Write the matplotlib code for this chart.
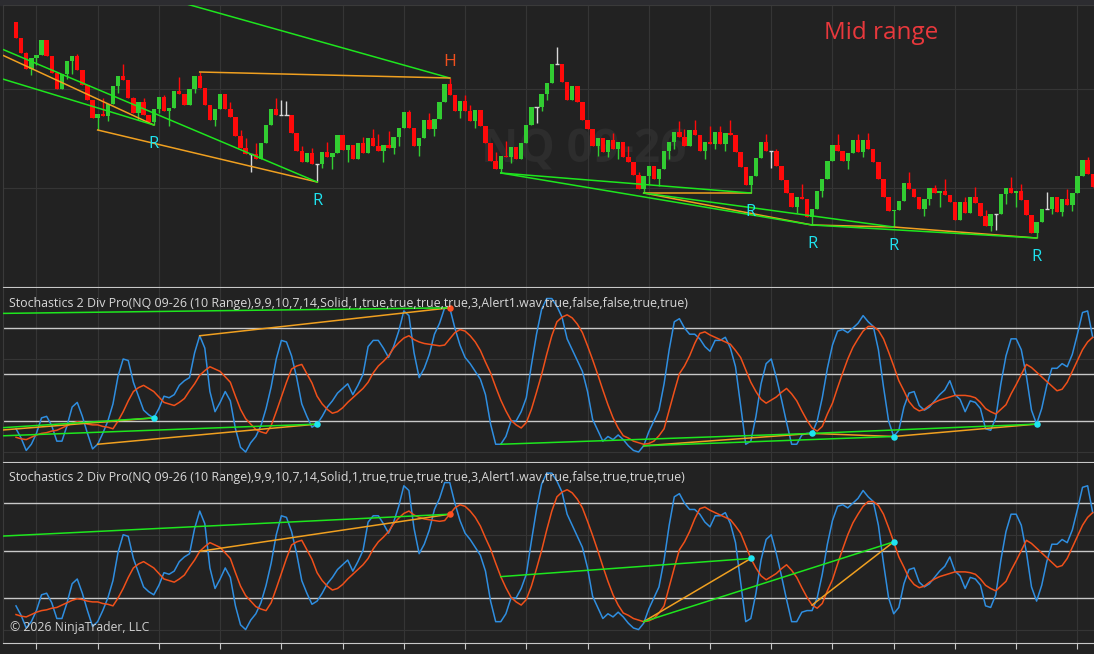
import numpy as np
import matplotlib.pyplot as plt
from matplotlib.patches import Rectangle

plt.rcParams['font.family'] = ['Open Sans', 'DejaVu Sans']

# ---- NQ 09-26 (10 Range) bars, price in chart units ----
first_open = 278
closes = [262, 247, 231, 242, 245, 260, 244, 227, 211, 226,
          239, 244, 230, 215, 200, 182, 186, 184, 196, 214,
          224, 220, 202, 187, 198, 185, 178, 191, 203, 189,
          192, 209, 206, 195, 211, 224, 212, 195, 180, 191,
          206, 191, 183, 164, 152, 146, 146, 141, 157, 175,
          191, 185, 185, 185, 167, 149, 138, 147, 136, 136,
          148, 143, 147, 165, 150, 155, 141, 157, 147, 162,
          154, 149, 155, 152, 163, 172, 188, 172, 154, 162,
          180, 171, 181, 198, 216, 205, 189, 199, 189, 179,
          190, 174, 157, 139, 131, 144, 143, 153, 141, 157,
          175, 193, 193, 206, 217, 236, 236, 218, 200, 214,
          198, 180, 171, 154, 162, 148, 160, 151, 158, 143,
          138, 125, 111, 124, 134, 121, 131, 149, 158, 168,
          163, 154, 170, 165, 149, 158, 156, 168, 156, 167,
          165, 148, 133, 115, 124, 142, 158, 149, 149, 134,
          120, 107, 93, 103, 101, 83, 91, 109, 121, 139,
          155, 149, 139, 147, 160, 148, 160, 151, 138, 121,
          103, 89, 90, 99, 117, 111, 103, 91, 101, 112,
          107, 109, 105, 98, 80, 98, 87, 103, 97, 84,
          74, 86, 86, 106, 112, 107, 109, 100, 85, 67,
          78, 91, 91, 103, 88, 101, 95, 107, 124, 140,
          126, 113]

# wick ends that stick out of the body
wick_highs = {2: 248, 12: 246, 17: 202, 21: 236, 23: 203, 25: 202, 29: 205, 32: 223,
              36: 228, 42: 198, 44: 170, 45: 162, 47: 157, 51: 202, 52: 200, 53: 199,
              56: 154, 58: 152, 61: 158, 68: 163, 70: 171, 71: 166, 73: 169, 77: 190,
              81: 187, 85: 222, 88: 205, 89: 195, 94: 148, 96: 159, 106: 253, 117: 167,
              120: 154, 122: 128, 130: 179, 131: 171, 133: 180, 136: 174, 138: 174,
              140: 180, 147: 166, 149: 151, 154: 116, 161: 166, 165: 166, 167: 167,
              175: 128, 180: 115, 182: 121, 186: 103, 188: 113, 190: 90, 195: 123,
              197: 116, 202: 108, 206: 111, 210: 143}
wick_lows = {3: 225, 4: 235, 10: 221, 11: 226, 16: 170, 18: 179, 20: 207, 24: 180,
             27: 175, 28: 187, 30: 174, 35: 207, 39: 174, 46: 128, 59: 118, 60: 132,
             62: 131, 65: 138, 72: 138, 74: 146, 75: 154, 79: 144, 82: 164, 87: 182,
             90: 172, 95: 127, 97: 137, 102: 177, 103: 189, 104: 200, 114: 144, 116: 143,
             118: 141, 123: 107, 124: 116, 126: 114, 128: 141, 129: 151, 135: 141,
             137: 151, 139: 149, 144: 107, 148: 132, 153: 87, 156: 75, 158: 103, 163: 131,
             166: 143, 172: 73, 178: 84, 179: 95, 181: 93, 191: 69, 192: 70, 194: 96,
             196: 93, 200: 62, 203: 86, 205: 84, 207: 89}

# ---- stochastics ----
stoch_k = [15, 9, 1, 5, 12, 22, 23, 17, 7, 7,
           17, 29, 32, 23, 12, 2, 5, 12, 20, 31,
           49, 60, 59, 45, 36, 27, 24, 22, 28, 36,
           35, 37, 43, 46, 48, 64, 75, 67, 39, 26,
           32, 39, 33, 15, 3, 0, 6, 10, 17, 28,
           42, 60, 72, 71, 62, 48, 31, 23, 16, 18,
           23, 29, 33, 38, 41, 44, 37, 43, 50, 68,
           72, 72, 67, 61, 68, 78, 91, 88, 64, 48,
           54, 63, 76, 83, 93, 93, 80, 69, 61, 57,
           52, 47, 37, 18, 5, 5, 10, 20, 20, 26,
           35, 56, 76, 92, 99, 99, 94, 87, 73, 66,
           59, 52, 39, 21, 14, 7, 10, 8, 11, 8,
           4, 1, 0, 4, 13, 20, 27, 44, 66, 84,
           86, 80, 76, 76, 73, 68, 65, 72, 72, 74,
           67, 55, 30, 5, 7, 23, 44, 57, 60, 48,
           34, 19, 5, 5, 11, 12, 12, 20, 35, 54,
           69, 78, 79, 77, 80, 83, 88, 84, 81, 66,
           42, 20, 10, 14, 29, 38, 39, 30, 27, 29,
           33, 37, 40, 46, 37, 34, 26, 33, 32, 28,
           15, 14, 22, 44, 62, 73, 73, 66, 49, 27,
           18, 28, 43, 54, 54, 57, 55, 63, 76, 90,
           91, 74]
stoch_d = [9.5, 8.5, 8, 9.5, 11, 12, 12.5, 13.5, 14, 15.5,
           17, 18.5, 19.5, 19, 18, 17.5, 17.5, 16.5, 16, 15,
           20, 26, 33, 39, 41.5, 43, 41, 39, 35.5, 32,
           31, 30, 32, 34.5, 39.5, 44, 49.5, 52.5, 55, 53.5,
           52, 48.5, 45, 36, 27.5, 21.5, 18, 14.5, 13, 12,
           17, 26, 35.5, 45, 53.5, 55.5, 56.5, 50.5, 44.5, 36,
           31, 27.5, 25, 26, 28.5, 32, 35, 38, 41, 45,
           51, 55.5, 58.5, 62, 67, 70.5, 73.5, 75, 72.5, 71,
           70, 69.5, 69, 68.5, 69, 73, 77, 79, 78, 75,
           71, 65.5, 58, 51, 42, 33.5, 26.5, 20.5, 17.5, 15.5,
           19, 27.5, 38.5, 50, 63, 75, 84, 87, 88.5, 86.5,
           82.5, 77, 68.5, 59.5, 50, 40, 30.5, 22, 15.5, 10.5,
           9, 7, 6, 5, 5.5, 7, 10.5, 15, 27, 39,
           50.5, 55.5, 62, 70, 76.5, 77.5, 75.5, 74, 72.5, 71,
           69.5, 65.5, 61, 53, 45, 39, 34, 31.5, 33.5, 35.5,
           38.5, 41, 37.5, 33, 26.5, 20.5, 15.5, 13.5, 16.5, 24.5,
           31.5, 41.5, 51, 60, 67.5, 73, 78, 81, 81, 78.5,
           73, 64.5, 55.5, 46, 39.5, 32.5, 28.5, 26.5, 27.5, 30,
           32, 33.5, 34.5, 35.5, 36.5, 36.5, 36.5, 36, 35, 32,
           28, 26, 24.5, 27.5, 30.5, 37.5, 43.5, 50, 56.5, 54.5,
           51.5, 48.5, 45.5, 42.5, 39.5, 40.5, 45, 52, 59, 66,
           71, 74]

stoch_levels = [20, 50, 80]
title_1 = ("Stochastics 2 Div Pro(NQ 09-26 (10 Range),9,9,10,7,14,Solid,1,true,true,true,true,3,"
           "Alert1.wav,true,false,false,true,true)")
title_2 = ("Stochastics 2 Div Pro(NQ 09-26 (10 Range),9,9,10,7,14,Solid,1,true,true,true,true,3,"
           "Alert1.wav,true,false,true,true,true)")

# divergence lines: (start bar, start value or None = pivot, end bar, colour)
price_div = [(16, 321, 85, 'g', 'high'), (36, None, 85, 'o', 'high'),
             (-3, 245.7, 27, 'o', 'low'), (-3, 221.6, 27, 'g', 'low'),
             (16, None, 59, 'o', 'low'), (-3, 251.5, 59, 'g', 'low'),
             (123, None, 144, 'o', 'low'), (123, None, 156, 'o', 'low'),
             (156, None, 172, 'o', 'low'), (172, None, 200, 'o', 'low'),
             (95, None, 144, 'g', 'low'), (95, None, 156, 'g', 'low'),
             (123, None, 172, 'g', 'low'), (156, None, 200, 'g', 'low')]
stoch1_div = [(36, None, 85, 'o'), (-3, 89.4, 85, 'g'),
              (-3, 14.1, 27, 'o'), (-3, 15.6, 27, 'g'),
              (16, None, 59, 'o'), (-3, 10.4, 59, 'g'),
              (123, None, 156, 'o'), (156, None, 172, 'o'), (172, None, 200, 'o'),
              (95, None, 156, 'g'), (123, None, 172, 'g'), (156, None, 200, 'g')]
stoch2_div = [(36, None, 85, 'o'), (-3, 59.1, 85, 'g'),
              (123, None, 144, 'o'), (156, None, 172, 'o'),
              (95, None, 144, 'g'), (123, None, 172, 'g')]
stoch1_dots = {'bear': [85], 'bull': [27, 59, 156, 172, 200]}
stoch2_dots = {'bear': [85], 'bull': [144, 172]}
r_labels = [27, 59, 144, 156, 172, 200]
h_labels = [85]

BG = '#222222'
GRID = '#353535'
LIGHT = '#c8c8c8'
UP = '#32cd32'
DOWN = '#ff0a0a'
DOJI = '#d8d8d8'
LINE_COL = {'g': '#1ee61e', 'o': '#f0a020'}
K_COL = '#2f8ee0'
D_COL = '#f0501a'
CYAN = '#1fe3f0'

W, H = 1094, 654
fig = plt.figure(figsize=(W / 100, H / 100), dpi=100, facecolor=BG)
fig.add_artist(Rectangle((0, 1 - 5 / H), 1, 5 / H, transform=fig.transFigure,
                         color='#2c2c30', zorder=0))


def px_axes(top, bottom):
    return fig.add_axes([3 / W, 1 - bottom / H, (W - 3) / W, (bottom - top) / H])


ax_p = px_axes(5, 287)
ax_s1 = px_axes(288, 462)
ax_s2 = px_axes(463, 643)

x = np.arange(len(closes))
c = np.array(closes, dtype=float)
o = np.concatenate([[first_open], c[:-1]])
hi = np.maximum(o, c)
lo = np.minimum(o, c)
for k, v in wick_highs.items():
    hi[k] = v
for k, v in wick_lows.items():
    lo[k] = v
k_arr = np.array(stoch_k, dtype=float)
d_arr = np.array(stoch_d, dtype=float)

for ax in (ax_p, ax_s1, ax_s2):
    ax.set_facecolor(BG)
    ax.set_xlim(-2.55, 211.25)
    ax.set_xticks(np.arange(4, 212, 12))
    ax.grid(True, color=GRID, lw=0.8)
    ax.set_axisbelow(True)
    for s in ax.spines.values():
        s.set_color('#3a3a3a')
        s.set_linewidth(0.8)
    ax.spines['bottom'].set_color(LIGHT)
    ax.spines['right'].set_visible(False)
    ax.tick_params(left=False, labelleft=False, labelbottom=False, bottom=False)
ax_s1.spines['top'].set_visible(False)
ax_s2.spines['top'].set_visible(False)
ax_s2.tick_params(bottom=True, direction='out', length=4.5, color=LIGHT, width=0.8)

# ---- price panel ----
ax_p.set_ylim(13, 295)
ax_p.set_yticks([112, 211])
ax_p.text(0.532, 0.486, 'NQ 09-26', transform=ax_p.transAxes, ha='center', va='center',
          fontsize=33, fontweight='bold', color='#2d2d2d', zorder=0)

up = c > o
dn = c < o
dj = c == o
ax_p.vlines(x[up], lo[up], hi[up], color=UP, lw=1.0, zorder=2)
ax_p.bar(x[up], c[up] - o[up], bottom=o[up], width=0.86, color=UP, lw=0, zorder=3)
ax_p.vlines(x[dn], lo[dn], hi[dn], color=DOWN, lw=1.0, zorder=2)
ax_p.bar(x[dn], c[dn] - o[dn], bottom=o[dn], width=0.86, color=DOWN, lw=0, zorder=3)
ax_p.vlines(x[dj], lo[dj], hi[dj], color=DOJI, lw=1.0, zorder=3)
ax_p.hlines(c[dj], x[dj] - 0.4, x[dj] + 0.4, color=DOJI, lw=1.0, zorder=3)


def pivot(i, kind):
    return hi[i] if kind == 'high' else lo[i]


for i0, v0, i1, col, kind in price_div:
    y0 = pivot(i0, kind) if v0 is None else v0
    ax_p.plot([i0, i1], [y0, pivot(i1, kind)], color=LINE_COL[col], lw=1.1, zorder=4)

for i in r_labels:
    ax_p.annotate('R', (i, lo[i]), xytext=(0, -14), textcoords='offset points',
                  ha='center', va='center', color=CYAN, fontsize=12, zorder=5)
for i in h_labels:
    ax_p.annotate('H', (i, hi[i]), xytext=(0, 11.5), textcoords='offset points',
                  ha='center', va='center', color='#f0501e', fontsize=12.5, zorder=5)

# ---- stochastic panels ----
for ax, lim, divs, dots, line in (
        (ax_s1, (-6.45, 105.8), stoch1_div, stoch1_dots, k_arr),
        (ax_s2, (-8.5, 105.4), stoch2_div, stoch2_dots, d_arr)):
    ax.set_ylim(*lim)
    ax.set_yticks([0, 60])
    for lv in stoch_levels:
        ax.axhline(lv, color=LIGHT, lw=1.0, zorder=1)
    ax.plot(x, k_arr, color=K_COL, lw=1.1, zorder=3)
    ax.plot(x, d_arr, color=D_COL, lw=1.1, zorder=3)
    for i0, v0, i1, col in divs:
        y0 = line[i0] if v0 is None else v0
        ax.plot([i0, i1], [y0, line[i1]], color=LINE_COL[col], lw=1.1, zorder=4)
    ax.scatter(dots['bear'], line[dots['bear']], s=22, color='#ff5020', zorder=5, lw=0)
    ax.scatter(dots['bull'], line[dots['bull']], s=22, color=CYAN, zorder=5, lw=0)

fig.text(9 / W, 1 - 303.5 / H, title_1, ha='left', va='center', fontsize=8.9, color='#d8d8d8')
fig.text(9 / W, 1 - 477.5 / H, title_2, ha='left', va='center', fontsize=8.9, color='#d8d8d8')
fig.text(881 / W, 1 - 33 / H, 'Mid range', ha='center', va='center', fontsize=17.5,
         color='#e8383c')
fig.text(10 / W, 1 - 627 / H, '\u00a9 2026 NinjaTrader, LLC', ha='left', va='center',
         fontsize=8.8, color='#d0d0d0')

fig.savefig('out.png', dpi=100, facecolor=BG)
